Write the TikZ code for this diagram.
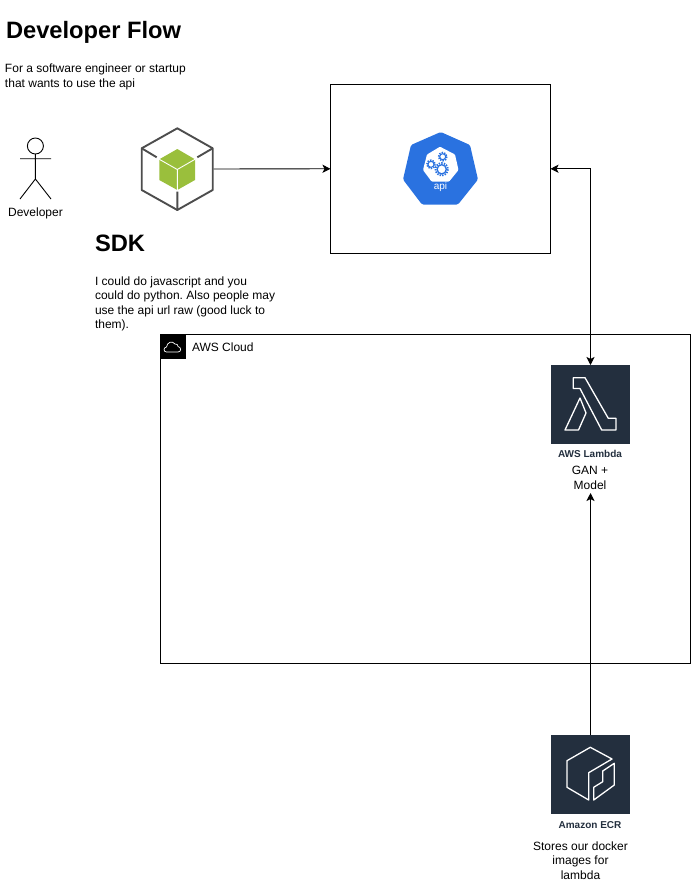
\documentclass[tikz,border=0pt]{standalone}
\usepackage{fontspec}
\setmainfont{Liberation Sans}
\usetikzlibrary{arrows.meta}
\frenchspacing
\definecolor{awsdark}{HTML}{232F3E}
\definecolor{apiblue}{HTML}{2A72E0}
\definecolor{cubegreen}{HTML}{9ABF3C}
\definecolor{cubegray}{HTML}{4D4D4D}
\tikzset{
  every node/.style={inner sep=0pt,outer sep=0pt},
  plain/.style={font=\fontsize{12}{14.5}\selectfont},
  heading/.style={font=\fontsize{23.7}{29}\selectfont\bfseries,anchor=base west},
  para/.style={plain,align=left,anchor=north west},
  centred/.style={plain,align=center},
  awslabel/.style={font=\fontsize{10}{12}\selectfont\bfseries,text=awsdark},
  framebox/.style={draw=black,line width=0.9pt,fill=white},
  tile/.style={fill=awsdark,minimum width=79pt,minimum height=79pt},
  conn/.style={draw=black,line width=0.9pt,{Stealth[length=8pt,width=8pt,inset=2pt]}-{Stealth[length=8pt,width=8pt,inset=2pt]}},
  connto/.style={draw=black,line width=0.9pt,-{Stealth[length=8pt,width=8pt,inset=2pt]}},
  tileline/.style={draw=white,line width=1.3pt,line join=round},
  gear/.style={draw=apiblue,line width=1.3pt,fill=white},
  geartooth/.style={draw=apiblue,line width=1.8pt,dash pattern=on 1.4pt off 1.2pt},
}
\begin{document}
\begin{tikzpicture}[x=1pt,y=-1pt]
\useasboundingbox (0,0) rectangle (691,887);

% Titles
\node[heading] (title) at (6,38) {Developer Flow};
\node[para] (subtitle) at (5,64) {For a software engineer or startup\\that wants to use the api};

% Actor
\draw[line width=0.9pt] (35.4,146) circle (8);
\draw[line width=0.9pt] (20,158.7) -- (51,158.7) (35.4,154) -- (35.4,179) (20,199) -- (35.4,179) -- (51,199);
\node[plain,anchor=center] (developer) at (35.5,213) {Developer};

% SDK cube
\node[minimum width=72pt,minimum height=82pt] (sdk) at (177.7,169) {};
\draw[cubegray,line width=1.9pt,line join=round] (177.3,128.3) -- (212.7,148.3) -- (212.7,190) -- (177.3,210) -- (141.7,190) -- (141.7,148.3) -- cycle;
\draw[cubegray,line width=1.9pt] (141.7,148.3) -- (156.7,157.3) (212.7,148.3) -- (197.3,157.3) (177.3,191.5) -- (177.3,210);
\fill[cubegreen] (177.3,149) -- (195,159.3) -- (195,180) -- (177.3,190) -- (159.3,180) -- (159.3,159.3) -- cycle;
\draw[white,line width=0.9pt] (159.3,159.3) -- (177.3,169.5) -- (195,159.3) (177.3,169.5) -- (177.3,190);
\node[heading] (sdktitle) at (95,251.5) {SDK};
\node[para] (sdktext) at (95,276.5) {I could do javascript and you\\could do python. Also people may\\use the api url raw (good luck to\\them).};

% API box
\node[framebox,minimum width=220pt,minimum height=169.5pt] (apibox) at (440.5,168.75) {};
\fill[apiblue,rounded corners=1.5pt] (440.7,132) -- (470,145) -- (478,179.5) -- (458,204.5) -- (422,204.5) -- (403,179.5) -- (411,145) -- cycle;
\fill[white,rounded corners=1pt] (440,146.7) -- (455,154.5) -- (458.5,170) -- (449,181.7) -- (431.7,181.7) -- (423,170) -- (427,154.5) -- cycle;
\draw[geartooth] (441.7,169.3) circle (6.2);
\draw[gear] (441.7,169.3) circle (4.6);
\draw[geartooth,line width=1.5pt] (431,164.3) circle (4.2);
\draw[gear,line width=1.1pt] (431,164.3) circle (3);
\draw[geartooth,line width=1.5pt] (442.7,156.7) circle (4.2);
\draw[gear,line width=1.1pt] (442.7,156.7) circle (3);
\node[font=\fontsize{10}{12}\selectfont,text=white] (apilabel) at (440.5,187) {api};

% AWS Cloud group
\node[framebox,minimum width=530pt,minimum height=329.5pt] (cloud) at (425.5,498.75) {};
\node[fill=black,minimum width=25pt,minimum height=25pt] (cloudtag) at (173,346.5) {};
\draw[white,line width=0.7pt,line join=round] (166.5,352) .. controls (163.5,352) and (163,347.5) .. (166.5,347) .. controls (167,342) and (172.5,340.5) .. (175,344) .. controls (177,343.5) and (178,345) .. (178,346.5) .. controls (181.5,347) and (181.5,352) .. (178,352) -- cycle;
\node[plain,anchor=base west] (cloudlabel) at (192,351) {AWS Cloud};

% Lambda
\node[tile] (lambda) at (590.5,404.5) {};
\draw[tileline] (573.3,377.7) -- (585,377.7) -- (608.3,418.3) -- (616,418.3) -- (616,430) -- (601.7,430) -- (580,388.5) -- (573.3,388.5) -- cycle;
\draw[tileline] (580,398) -- (586,413) -- (578.5,430) -- (565,430) -- cycle;
\node[awslabel] (lambdalabel) at (590,454) {AWS Lambda};
\node[centred,minimum height=30pt] (lambdatext) at (590,478) {GAN +\\Model};

% ECR
\node[tile] (ecr) at (590.5,774.5) {};
\draw[tileline] (612,759) -- (590.3,747.3) -- (567,760.7) -- (567,787.3) -- (588.7,800) -- (588.7,772.7) -- cycle;
\draw[tileline] (614.3,763.3) -- (614.3,785) -- (593.7,800) -- (593.7,787.3) -- (602.7,781.7) -- (602.7,771) -- cycle;
\node[awslabel] (ecrlabel) at (590,825) {Amazon ECR};
\node[centred] (ecrtext) at (580.5,860.5) {Stores our docker\\images for\\lambda};

% Connectors
\draw[connto] (sdk.east) -- (apibox.west);
\draw[conn] (lambda.north) |- (apibox.east);
\draw[connto] (ecr.north) -- (lambdatext.south -| ecr.north);
\end{tikzpicture}
\end{document}
